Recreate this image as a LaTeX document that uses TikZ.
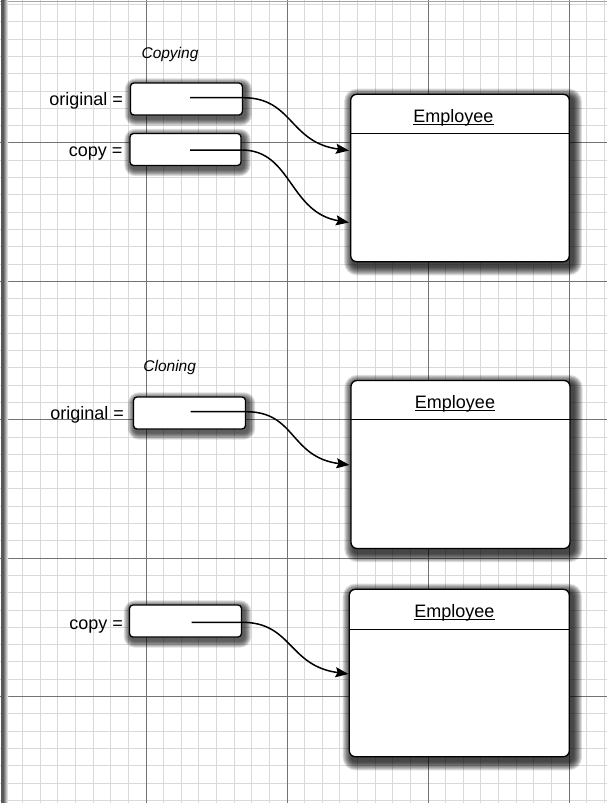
\documentclass[tikz,border=0pt]{standalone}
\usepackage{fontspec}
\setmainfont{Liberation Sans}
\usetikzlibrary{arrows.meta,calc}
\pgfdeclarelayer{gridlayer}
\pgfdeclarelayer{shadowlayer}
\pgfsetlayers{gridlayer,shadowlayer,main}
\newcommand{\dropshadow}[4]{% node, xshift, yshift, steps
  \begin{pgfonlayer}{shadowlayer}
  \foreach \k in {1,...,#4} {
    \fill[black, fill opacity=0.13, rounded corners={4pt+\k pt}]
      ($(#1.north west)+(#2-\k,#3-\k)$) rectangle ($(#1.south east)+(#2+\k,#3+\k)$);
  }
  \end{pgfonlayer}}
\begin{document}
\begin{tikzpicture}[x=1pt,y=-1pt,
  fine/.style={black!15, line width=0.9pt},
  major/.style={black!55, line width=1pt},
  refbox/.style={draw, line width=1.3pt, fill=white, rounded corners=3.5pt,
    minimum width=112pt, minimum height=32pt, inner sep=0pt},
  objbox/.style={draw, line width=1.3pt, fill=white, rounded corners=6pt,
    minimum width=219pt, minimum height=168pt, inner sep=0pt},
  lbl/.style={font=\fontsize{18}{20}\selectfont, anchor=base east, inner sep=0pt},
  ttl/.style={font=\fontsize{15.5}{18}\selectfont\itshape, anchor=base, inner sep=0pt},
  cls/.style={font=\fontsize{18}{20}\selectfont, anchor=base, inner sep=0pt},
  ref/.style={line width=1.5pt, -{Stealth[length=13pt,width=10pt,inset=2pt]}},
  hdr/.style={line width=1.1pt},
  uline/.style={line width=1pt}]
\useasboundingbox (0,0) rectangle (607,803);
\begin{pgfonlayer}{gridlayer}
\fill[white] (0,0) rectangle (607,803);
\foreach \i in {0,...,34} \draw[fine] ({5+17.625*\i},0) -- ({5+17.625*\i},803);
\foreach \j in {0,...,46} \draw[fine] (0,{4.5+17.3*\j}) -- (607,{4.5+17.3*\j});
\foreach \i in {1,...,4} \draw[major] ({5+141*\i},0) -- ({5+141*\i},803);
\foreach \j in {1,...,5} \draw[major] (0,{4.5+138.4*\j}) -- (607,{4.5+138.4*\j});
\draw[black!35, line width=1pt] (0,1.5) -- (607,1.5);
\fill[black!65] (1,0) rectangle (4.5,803);
\shade[left color=black!45, right color=white] (4.5,0) rectangle (8,803);
\end{pgfonlayer}

% ---------- Copying ----------
\node[ttl] (tcopying) at (170,58.3) {Copying};
\node[refbox] (b1) at (186.4,99) {};
\node[refbox, minimum width=111pt] (b2) at (185.5,149.5) {};
\node[lbl] (l1) at (123,105.5) {original =};
\node[lbl] (l2) at (122.7,156.5) {copy =};
\node[objbox, minimum width=218.6pt, minimum height=167.4pt] (e1) at (460,178) {};
\draw[hdr] ([yshift=-40pt]e1.north west) -- ([yshift=-40pt]e1.north east);
\node[cls] (e1t) at (453.3,122.5) {Employee};
\draw[uline] ([yshift=-1.5pt]e1t.base west) -- ([yshift=-1.5pt]e1t.base east);
\coordinate (s1) at (190,97.7);
\coordinate (s2) at (190,150);
\coordinate (t1) at (349,150.5);
\coordinate (t2) at (349,222.5);
\draw[ref] (s1) -- (s1 -| b1.east) .. controls +(50,0) and +(-60,-8) .. (t1);
\draw[ref] (s2) -- (s2 -| b2.east) .. controls +(50,0) and +(-60,-10) .. (t2);

% ---------- Cloning ----------
\node[ttl] (tcloning) at (169.7,371) {Cloning};
\node[refbox] (b3) at (189.5,413) {};
\node[lbl] (l3) at (124,419.5) {original =};
\node[objbox] (e2) at (460.5,464.5) {};
\draw[hdr] ([yshift=-40pt]e2.north west) -- ([yshift=-40pt]e2.north east);
\node[cls] (e2t) at (455,408.5) {Employee};
\draw[uline] ([yshift=-1.5pt]e2t.base west) -- ([yshift=-1.5pt]e2t.base east);
\coordinate (s3) at (190.7,411.7);
\coordinate (t3) at (349.5,465);
\draw[ref] (s3) -- (s3 -| b3.east) .. controls +(50,0) and +(-60,-8) .. (t3);

\node[refbox] (b4) at (185.5,621) {};
\node[lbl] (l4) at (123,629) {copy =};
\node[objbox, minimum width=220pt, minimum height=167.4pt] (e3) at (459.3,673) {};
\draw[hdr] ([yshift=-40.7pt]e3.north west) -- ([yshift=-40.7pt]e3.north east);
\node[cls] (e3t) at (454.3,617.7) {Employee};
\draw[uline] ([yshift=-1.5pt]e3t.base west) -- ([yshift=-1.5pt]e3t.base east);
\coordinate (s4) at (191.7,622.3);
\coordinate (t4) at (348.5,674);
\draw[ref] (s4) -- (s4 -| b4.east) .. controls +(50,0) and +(-60,-8) .. (t4);

% shadows
\dropshadow{b1}{2}{3}{7}
\dropshadow{b2}{2}{3}{7}
\dropshadow{b3}{2}{3}{7}
\dropshadow{b4}{2}{3}{7}
\dropshadow{e1}{3}{4}{9}
\dropshadow{e2}{3}{4}{9}
\dropshadow{e3}{3}{4}{9}
\end{tikzpicture}
\end{document}
